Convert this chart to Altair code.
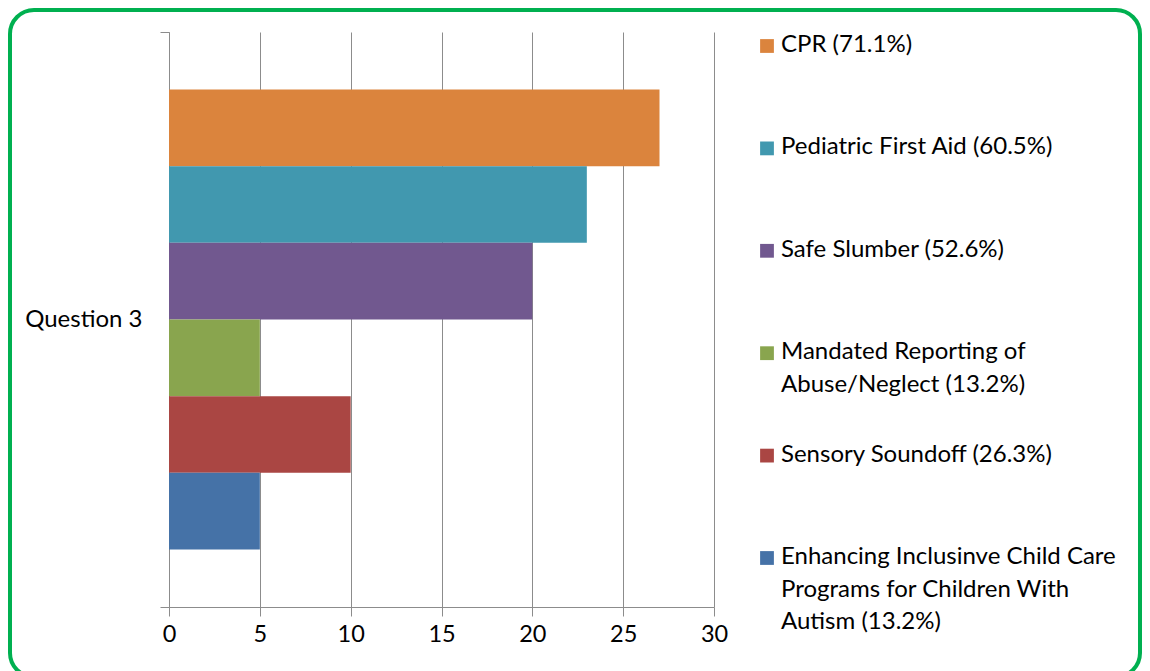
import altair as alt
import pandas as pd

# ---- data ----
categories = ["Question 3"]
series = [
    "CPR (71.1%)",
    "Pediatric First Aid (60.5%)",
    "Safe Slumber (52.6%)",
    "Mandated Reporting of Abuse/Neglect (13.2%)",
    "Sensory Soundoff (26.3%)",
    "Enhancing Inclusinve Child Care Programs for Children With Autism (13.2%)",
]
legend_text = [
    "CPR (71.1%)",
    "Pediatric First Aid (60.5%)",
    "Safe Slumber (52.6%)",
    "Mandated Reporting of\nAbuse/Neglect (13.2%)",
    "Sensory Soundoff (26.3%)",
    "Enhancing Inclusinve Child Care\nPrograms for Children With\nAutism (13.2%)",
]
values = [27, 23, 20, 5, 10, 5]
colors = ["#DB843D", "#4198AF", "#71588F", "#89A54E", "#AA4643", "#4572A7"]
x_ticks = [0, 5, 10, 15, 20, 25, 30]
legend_rank = [0, 1, 2, 3, 4, 5]

FONT = "Lato"
FS = 24
GRID = "#8C8C8C"

df = pd.DataFrame({
    "question": categories * len(series),
    "series": series,
    "value": values,
})
leg_df = pd.DataFrame({"series": series, "label": legend_text, "rank": legend_rank})

color_scale = alt.Scale(domain=series, range=colors)

bars = alt.Chart(df).mark_bar().encode(
    x=alt.X("value:Q",
            scale=alt.Scale(domain=[0, 30], nice=False),
            axis=alt.Axis(values=x_ticks, title=None, grid=True, gridColor=GRID,
                          gridOpacity=1, domainColor=GRID, tickColor=GRID,
                          tickSize=9, labelFont=FONT, labelFontSize=23.5,
                          labelColor="#000000", labelPadding=6, labelFlush=False)),
    y=alt.Y("question:N",
            scale=alt.Scale(paddingInner=0, paddingOuter=0),
            axis=alt.Axis(title=None, tickBand="extent", tickSize=9,
                          tickColor=GRID, domainColor=GRID, labelFont=FONT,
                          labelFontSize=FS, labelColor="#000000",
                          labelPadding=18)),
    yOffset=alt.YOffset("series:N", sort=series,
                        scale=alt.Scale(paddingInner=0, paddingOuter=0.75)),
    color=alt.Color("series:N", scale=color_scale, legend=None),
)

border = alt.Chart(pd.DataFrame({"b": [0]})).mark_rect(
    fillOpacity=0, stroke="#00B050", strokeWidth=4, cornerRadius=24
).encode(
    x=alt.value(-159), x2=alt.value(971),
    y=alt.value(-22), y2=alt.value(645),
)

left = alt.layer(border, bars).properties(width=545, height=575)

dom = [-14 / 102.4, -14 / 102.4 + 575 / 102.4]
leg_sym = alt.Chart(leg_df).mark_square(size=190, opacity=1).encode(
    x=alt.value(13),
    y=alt.Y("rank:Q", scale=alt.Scale(domain=dom, reverse=True, nice=False, zero=False), axis=None),
    color=alt.Color("series:N", scale=color_scale, legend=None),
)
leg_txt = alt.Chart(leg_df).mark_text(
    align="left", baseline="top", dy=-13, font=FONT, fontSize=FS,
    lineBreak="\n", lineHeight=32.5, color="#000000"
).encode(
    x=alt.value(27),
    y=alt.Y("rank:Q", scale=alt.Scale(domain=dom, reverse=True, nice=False, zero=False), axis=None),
    text="label:N",
)
legend = alt.layer(leg_sym, leg_txt).properties(width=370, height=575)

chart = alt.hconcat(left, legend, spacing=40, bounds="flush").properties(
    padding={"left": 0, "top": 0, "right": 0, "bottom": 0}
).configure_view(stroke=None)

chart.save("out.html", embed_options={"renderer": "svg", "actions": False})
